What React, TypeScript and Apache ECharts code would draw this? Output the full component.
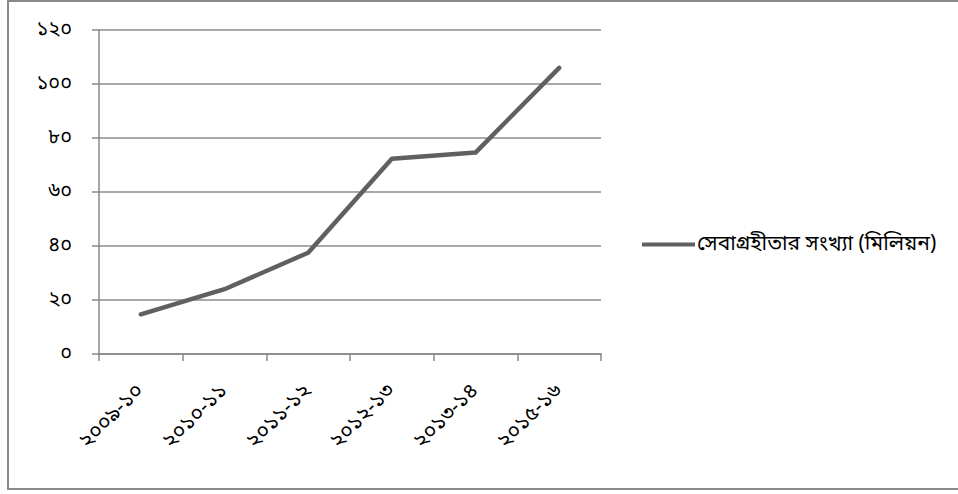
import React, { useEffect, useRef } from "react";
import * as echarts from "echarts";

const categories = ["২০০৯-১০", "২০১০-১১", "২০১১-১২", "২০১২-১৩", "২০১৩-১৪", "২০১৫-১৬"];
const seriesName = "সেবাগ্রহীতার সংখ্যা (মিলিয়ন)";
const values = [14.7, 24, 37.5, 72.3, 74.6, 106];
const yTickLabels = ["০", "২০", "৪০", "৬০", "৮০", "১০০", "১২০"];

const FONT = "'Noto Sans Bengali', 'Noto Serif Bengali', 'Lohit Bengali', 'Noto Sans', sans-serif";

export default function App() {
  const ref = useRef<HTMLDivElement>(null);
  useEffect(() => {
    document.body.style.margin = "0";
    if (!ref.current) return;
    const chart = echarts.init(ref.current, undefined, { renderer: "svg" });
    chart.setOption({
      animation: false,
      backgroundColor: "#ffffff",
      textStyle: { fontFamily: FONT },
      graphic: [
        {
          type: "rect",
          shape: { x: 8, y: 1, width: 960, height: 488 },
          style: { fill: "none", stroke: "#898989", lineWidth: 2 },
          silent: true,
          z: -1,
        },
      ],
      grid: { left: 99, right: 357, top: 30, bottom: 140, containLabel: false },
      legend: {
        show: true,
        left: 642,
        top: 234,
        padding: 0,
        icon: "rect",
        itemWidth: 53,
        itemHeight: 4,
        textStyle: { fontFamily: FONT, fontSize: 21, color: "#000", padding: [0, 0, 0, -3] },
        data: [seriesName],
      },
      xAxis: {
        type: "category",
        data: categories,
        boundaryGap: true,
        axisLine: { show: true, lineStyle: { color: "#888", width: 1.5 } },
        axisTick: { show: true, length: 7, alignWithLabel: false, lineStyle: { color: "#888", width: 1.5 } },
        axisLabel: { rotate: 45, margin: 34, fontSize: 21, color: "#000", fontFamily: FONT, interval: 0 },
        splitLine: { show: false },
      },
      yAxis: {
        type: "value",
        min: 0,
        max: 120,
        interval: 20,
        axisLine: { show: true, lineStyle: { color: "#888", width: 1.5 } },
        axisTick: { show: true, length: 7, lineStyle: { color: "#888", width: 1.5 } },
        axisLabel: {
          margin: 27,
          fontSize: 20,
          color: "#000",
          fontFamily: FONT,
          formatter: (v: number) => yTickLabels[Math.round(v / 20)] ?? String(v),
        },
        splitLine: { show: true, lineStyle: { color: "#8c8c8c", width: 1.5 } },
      },
      series: [
        {
          name: seriesName,
          type: "line",
          data: values,
          symbol: "none",
          itemStyle: { color: "#606060" },
          lineStyle: { color: "#606060", width: 4.5, cap: "round", join: "round" },
        },
      ],
    });
    return () => chart.dispose();
  }, []);
  return <div ref={ref} style={{ width: 958, height: 494, position: "absolute", left: 0, top: 0 }} />;
}
